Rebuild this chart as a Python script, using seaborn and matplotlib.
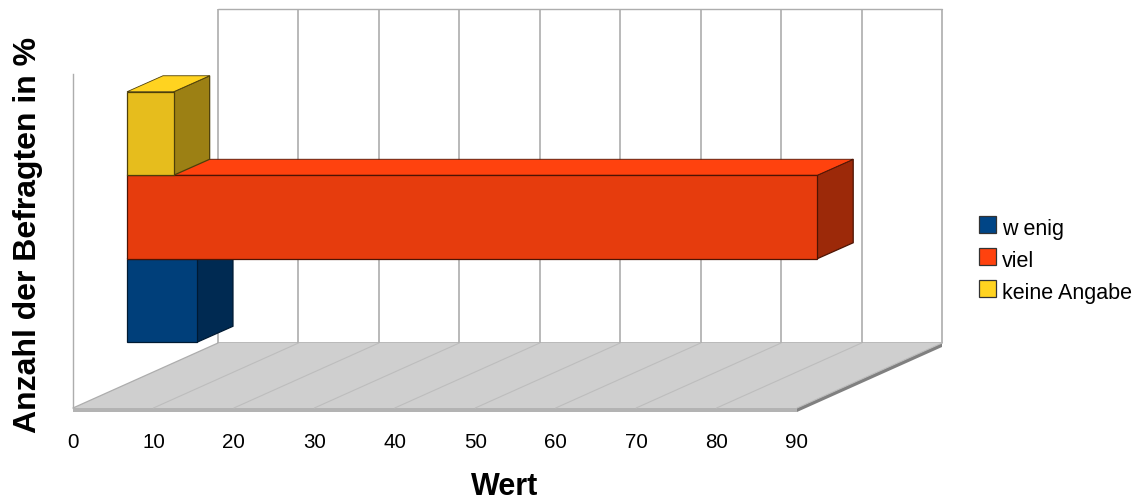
import matplotlib
matplotlib.use("Agg")
import matplotlib.pyplot as plt
from matplotlib.patches import Patch, Polygon
from matplotlib.transforms import Affine2D
import numpy as np
import pandas as pd
import seaborn as sns

series = ["w enig", "viel", "keine Angabe"]
values = [8.7, 85.8, 5.8]
x_ticks = [0, 10, 20, 30, 40, 50, 60, 70, 80, 90]
x_label = "Wert"
y_label = "Anzahl der Befragten in %"

base_colors = ["#004586", "#ff420e", "#ffd320"]
front_colors = ["#003f7a", "#e63c0d", "#e6bd1d"]
side_colors = ["#002a52", "#9c2909", "#9c8014"]
edge_colors = ["#001a33", "#4d1404", "#4d3f0a"]

W, H = 1141, 502
L, R, B, T = 73, 797, 409, 75
px_x = (R - L) / 90.0
px_y = float(B - T)
# perspective offsets, pixels
wall_dx, wall_dy = 145, 65
plane_dx, plane_dy = 54, 24
bar_dx, bar_dy = 36, 16

sns.set_theme(style="white")
plt.rcParams["font.family"] = ["Liberation Sans", "DejaVu Sans"]

fig = plt.figure(figsize=(W / 100, H / 100), dpi=100, facecolor="white")
ax = fig.add_axes([L / W, (H - B) / H, (R - L) / W, (B - T) / H])
ax.patch.set_alpha(0)

df = pd.DataFrame({"group": [""] * 3, "series": series, "value": values})
sns.barplot(data=df, x="value", y="group", hue="series", hue_order=series,
            palette=front_colors, saturation=1, width=0.75, gap=0, dodge=True,
            orient="h", legend=False, ax=ax)
ax.set_xlim(0, 90)
ax.set_ylim(-0.5, 0.5)

wdx, wdy = wall_dx / px_x, wall_dy / px_y
ldx, ldy = plane_dx / px_x, plane_dy / px_y
bdx, bdy = bar_dx / px_x, bar_dy / px_y
y0, y1 = ax.get_ylim()
x0, x1 = ax.get_xlim()
GRID = "#adadad"

# back wall
for t in x_ticks:
    ax.plot([t + wdx, t + wdx], [y0 + wdy, y1 + wdy], color=GRID, lw=1.2,
            clip_on=False, zorder=1, solid_capstyle="butt")
ax.plot([x0 + wdx, x1 + wdx], [y1 + wdy, y1 + wdy], color=GRID, lw=1.0,
        clip_on=False, zorder=1)
ax.plot([x0 + wdx, x1 + wdx], [y0 + wdy, y0 + wdy], color=GRID, lw=1.2,
        clip_on=False, zorder=1)

# floor
thick = 4 / px_y
ax.add_patch(Polygon([(x0, y0), (x1, y0), (x1 + wdx, y0 + wdy), (x0 + wdx, y0 + wdy)],
                     closed=True, fc="#cfcfcf", ec="none", clip_on=False, zorder=1.5))
ax.add_patch(Polygon([(x0, y0), (x1, y0), (x1, y0 - thick), (x0, y0 - thick)],
                     closed=True, fc="#b3b3b3", ec="none", clip_on=False, zorder=1.6))
ax.add_patch(Polygon([(x1, y0), (x1 + wdx, y0 + wdy), (x1 + wdx, y0 + wdy - thick), (x1, y0 - thick)],
                     closed=True, fc="#808080", ec="none", clip_on=False, zorder=1.6))
for t in x_ticks[1:]:
    ax.plot([t, t + wdx], [y0, y0 + wdy], color="#bdbdbd", lw=0.8,
            clip_on=False, zorder=1.7)
ax.plot([x0, x0 + wdx], [y0, y0 + wdy], color=GRID, lw=0.9, clip_on=False, zorder=1.7)

# 3D bars
shift = Affine2D().translate(plane_dx, plane_dy)
for i, p in enumerate(ax.patches[:len(series)]):
    bx, by, bw, bh = p.get_x(), p.get_y(), p.get_width(), p.get_height()
    z = 3 + 2 * i
    p.set_transform(ax.transData + shift)
    p.set_clip_on(False)
    p.set_edgecolor(edge_colors[i])
    p.set_linewidth(0.9)
    p.set_zorder(z + 1)
    xa, xb, ya, yb = bx + ldx, bx + bw + ldx, by + ldy, by + bh + ldy
    ax.add_patch(Polygon([(xb, ya), (xb + bdx, ya + bdy), (xb + bdx, yb + bdy), (xb, yb)],
                         closed=True, fc=side_colors[i], ec=edge_colors[i], lw=0.9,
                         clip_on=False, zorder=z))
    ax.add_patch(Polygon([(xa, yb), (xb, yb), (xb + bdx, yb + bdy), (xa + bdx, yb + bdy)],
                         closed=True, fc=base_colors[i], ec=edge_colors[i], lw=0.6,
                         clip_on=False, zorder=z))

# axes furniture
for s in ["top", "right", "bottom"]:
    ax.spines[s].set_visible(False)
ax.spines["left"].set_color(GRID)
ax.spines["left"].set_linewidth(1.0)
ax.spines["left"].set_zorder(1)
ax.set_yticks([])
ax.set_xticks(x_ticks)
ax.tick_params(axis="x", length=0, pad=17.2, labelsize=14.8, labelcolor="black")
ax.set_xlabel(x_label, fontsize=22, fontweight="bold", color="black", va="center")
ax.set_ylabel(y_label, fontsize=23, fontweight="bold", color="black", va="center", rotation=90)
ax.xaxis.set_label_coords((505 - L) / (R - L), (B - 487.5) / (B - T))
ax.yaxis.set_label_coords((28 - L) / (R - L), (B - 234.5) / (B - T))

handles = [Patch(fc=c, ec="#333333", lw=0.9) for c in base_colors]
leg = fig.legend(handles, series, loc="upper left", bbox_to_anchor=(979 / W, (H - 217) / H),
                 bbox_transform=fig.transFigure, frameon=False, fontsize=15.5, labelcolor="black",
                 borderpad=0, borderaxespad=0, handlelength=0.79, handleheight=0.79,
                 handletextpad=0.28, labelspacing=0.507)
for t in leg.get_texts():
    t.set_position((0, -2))

fig.savefig("out.png", dpi=100, facecolor="white")
